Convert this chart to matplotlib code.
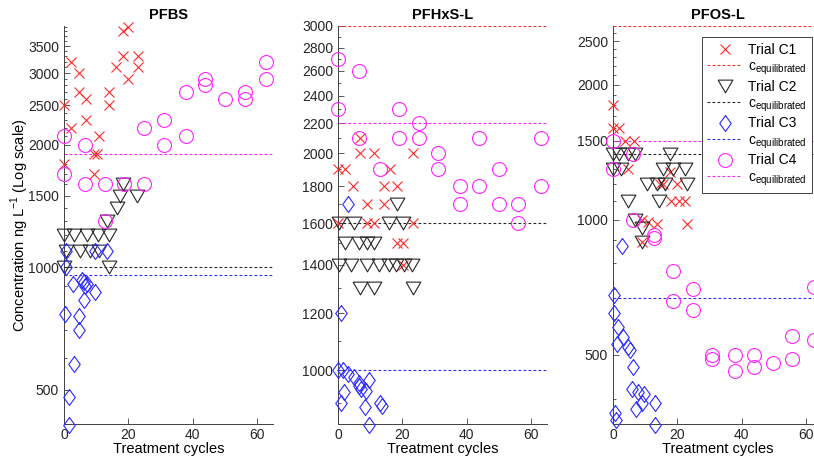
import numpy as np
import matplotlib
matplotlib.use('Agg')
from matplotlib import pyplot as plt
from matplotlib.path import Path
from matplotlib.ticker import FixedLocator, MultipleLocator, NullFormatter, FixedFormatter

plt.rcParams['font.family'] = ['Liberation Sans', 'DejaVu Sans']
plt.rcParams['mathtext.fontset'] = 'custom'
plt.rcParams['mathtext.rm'] = 'Liberation Sans'

# ---- PFBS ----
pfbs_c1_t = [0, 0, 2.2, 2.2, 4.7, 4.7, 6.9, 6.9, 9.3, 9.3, 10.4, 10.9, 14, 14, 16.3, 18.2, 18.2, 19.8, 19.8, 22.9, 22.9]
pfbs_c1_y = [2500, 1800, 3200, 2200, 3000, 2700, 2600, 2300, 1900, 1700, 1900, 2100, 2700, 2500, 3100, 3800, 3300, 3900, 2900, 3300, 3100]
pfbs_c2_t = [0, 3, 7, 10.5, 14, 0.5, 5, 8, 11, 0, 14, 13.5, 16.5, 17.5, 22.7, 18.2]
pfbs_c2_y = [1200, 1200, 1200, 1200, 1200, 1100, 1100, 1100, 1100, 1000, 1000, 1300, 1400, 1500, 1500, 1600]
pfbs_c3_t = [0.5, 9.7, 13.3, 0.5, 2.9, 5.5, 6.3, 7, 6.5, 9.5, 6.25, 0.3, 4.8, 4.8, 3.1, 1.5, 1.5]
pfbs_c3_y = [1100, 1100, 1100, 1000, 910, 930, 920, 910, 900, 870, 830, 770, 760, 700, 580, 480, 410]
pfbs_c4_t = [0, 0, 6.4, 6.4, 12.8, 12.8, 18.6, 25, 25, 31.2, 31.2, 37.8, 37.8, 44, 44, 50, 56.2, 56.2, 62.8, 62.8]
pfbs_c4_y = [2100, 1700, 2000, 1600, 1600, 1300, 1600, 2200, 1600, 2300, 2000, 2700, 2100, 2900, 2800, 2600, 2700, 2600, 3200, 2900]
pfbs_eq = [4200, 1000, 955, 1900]

# ---- PFHxS-L ----
pfhxs_c1_t = [0, 0, 2.3, 4.7, 6.8, 6.8, 9.1, 9.1, 11.1, 11.1, 14.2, 14.2, 16.3, 18.2, 18.4, 20.2, 20.2, 23.2, 23.2]
pfhxs_c1_y = [1900, 1600, 1900, 1800, 2100, 2000, 1700, 1600, 2000, 1600, 1800, 1700, 1900, 1800, 1500, 1500, 1400, 2000, 1600]
pfhxs_c2_t = [0.25, 4.9, 15.8, 20.2, 18.2, 2.3, 6.5, 9.1, 11.3, 0.25, 3.9, 9.1, 12.7, 15.8, 17.9, 20.4, 23, 6.8, 11.1, 23.4]
pfhxs_c2_y = [1600, 1600, 1600, 1600, 1700, 1500, 1500, 1500, 1500, 1400, 1400, 1400, 1400, 1400, 1400, 1400, 1400, 1300, 1300, 1300]
pfhxs_c3_t = [3.2, 0.8, 0, 1.5, 3, 5, 6.5, 6.5, 7, 8.8, 9.6, 2, 0.8, 8.3, 13.2, 13.7, 9.6]
pfhxs_c3_y = [1700, 1200, 1000, 1000, 990, 980, 960, 953, 943, 938, 969, 933, 900, 889, 901, 894, 841]
pfhxs_c4_t = [0, 0, 6.5, 6.5, 13, 19, 19, 25.2, 25.2, 31.2, 31.2, 38, 38, 44, 44, 50, 50, 56, 56, 63, 63]
pfhxs_c4_y = [2700, 2300, 2600, 2100, 1900, 2300, 2100, 2200, 2100, 2000, 1900, 1800, 1700, 2100, 1800, 1900, 1700, 1700, 1600, 2100, 1800]
pfhxs_eq = [3000, 1600, 1000, 2200]

# ---- PFOS-L ----
pfos_c1_t = [0, 0, 1.9, 3.75, 6.4, 4.6, 9, 11, 13.6, 14.7, 15.7, 17.8, 19.9, 18.1, 20.4, 22.5, 23, 9]
pfos_c1_y = [1800, 1600, 1600, 1500, 1500, 1300, 1000, 990, 980, 1200, 1200, 1280, 1200, 1100, 1100, 1100, 980, 890]
pfos_c2_t = [0, 1.9, 4.6, 6.7, 17.8, 0, 2.4, 15.7, 18.8, 22.5, 10.5, 13.6, 16.3, 23, 4.6, 14.2, 6.7, 9, 9]
pfos_c2_y = [1400, 1400, 1400, 1400, 1400, 1300, 1300, 1300, 1300, 1300, 1200, 1200, 1200, 1200, 1100, 1100, 1000, 960, 890]
pfos_c3_t = [2.9, 0.3, 0.3, 1.7, 1.2, 3.2, 4.8, 5.3, 6.2, 5.8, 7.7, 9.5, 9, 7.1, 13.1, 0.6, 0.8, 13.1]
pfos_c3_y = [875, 680, 620, 576, 530, 547, 521, 513, 470, 421, 414, 410, 390, 380, 391, 371, 359, 350]
pfos_c4_t = [0, 0, 6.2, 6.2, 12.6, 12.6, 18.8, 18.8, 24.9, 24.9, 30.8, 30.8, 37.9, 37.9, 43.8, 43.8, 49.9, 55.8, 55.8, 62.6, 62.6]
pfos_c4_y = [1500, 1300, 1400, 1000, 926, 910, 770, 660, 700, 630, 500, 490, 500, 460, 500, 470, 480, 550, 490, 710, 540]
pfos_eq = [2700, 1400, 670, 1500]

titles = ['PFBS', 'PFHxS-L', 'PFOS-L']
ylims = [(412, 3920), (843, 3000), (351, 2700)]
yticks = [[500, 1000, 1500, 2000, 2500, 3000, 3500],
          [1000, 1200, 1400, 1600, 1800, 2000, 2200, 2400, 2600, 2800, 3000],
          [500, 1000, 1500, 2000, 2500]]
trial_names = ['Trial C1', 'Trial C2', 'Trial C3', 'Trial C4']

# marker shapes: bbox-centred down triangle and a slightly narrow diamond
tri_down = Path([(-1, 0.866), (1, 0.866), (0, -0.866), (-1, 0.866)])
diamond = Path([(0, 1), (0.72, 0), (0, -1), (-0.72, 0), (0, 1)])
styles = [dict(marker='x', ms=7, color='#ff2a2a'),
          dict(marker=tri_down, ms=10.6, color='#262626'),
          dict(marker=diamond, ms=11.5, color='#2a2aff'),
          dict(marker='o', ms=10, color='#ff22ff')]

panels = [
    [(pfbs_c1_t, pfbs_c1_y), (pfbs_c2_t, pfbs_c2_y), (pfbs_c3_t, pfbs_c3_y), (pfbs_c4_t, pfbs_c4_y)],
    [(pfhxs_c1_t, pfhxs_c1_y), (pfhxs_c2_t, pfhxs_c2_y), (pfhxs_c3_t, pfhxs_c3_y), (pfhxs_c4_t, pfhxs_c4_y)],
    [(pfos_c1_t, pfos_c1_y), (pfos_c2_t, pfos_c2_y), (pfos_c3_t, pfos_c3_y), (pfos_c4_t, pfos_c4_y)],
]
eqs = [pfbs_eq, pfhxs_eq, pfos_eq]

W, H = 814, 463
fig = plt.figure(figsize=(W / 100, H / 100), dpi=100)
lefts = [64, 338, 613]
axc = '#404040'

axes = []
for i in range(3):
    ax = fig.add_axes([lefts[i] / W, (H - 424) / H, 209 / W, 398 / H])
    axes.append(ax)
    handles = []
    for k, (t, y) in enumerate(panels[i]):
        st = styles[k]
        h, = ax.plot(t, y, linestyle='none', marker=st['marker'], ms=st['ms'],
                     mfc='none', mec=st['color'], mew=0.8, clip_on=False,
                     label=trial_names[k], zorder=3)
        ln = ax.axhline(eqs[i][k], color=st['color'], lw=0.8, ls=(0, (2.5, 2)),
                        label=r'c$_{\mathregular{equilibrated}}$', zorder=2)
        handles += [h, ln]

    ax.set_yscale('log')
    ax.set_ylim(*ylims[i])
    ax.set_xlim(0, 65)
    ax.yaxis.set_major_locator(FixedLocator(yticks[i]))
    ax.yaxis.set_major_formatter(FixedFormatter([str(v) for v in yticks[i]]))
    ax.yaxis.set_minor_locator(MultipleLocator(100))
    ax.yaxis.set_minor_formatter(NullFormatter())
    ax.set_xticks([0, 20, 40, 60])
    ax.tick_params(which='both', direction='in', colors=axc, labelsize=10, labelcolor='#262626')
    ax.tick_params(which='major', length=4, width=0.6)
    ax.tick_params(which='minor', length=2.5, width=0.6)
    ax.tick_params(axis='x', pad=3)
    for side in ['top', 'right']:
        ax.spines[side].set_visible(False)
    for side in ['left', 'bottom']:
        ax.spines[side].set_color(axc)
        ax.spines[side].set_linewidth(0.7)
    ax.set_title(titles[i], fontsize=10.5, fontweight='bold', pad=5)
    ax.set_xlabel('Treatment cycles', fontsize=10.5, labelpad=0)

axes[0].set_ylabel(r'Concentration ng L$^{\mathregular{-1}}$ (Log scale)', fontsize=10.5, labelpad=-2)

leg = axes[2].legend(handles=handles, loc='upper right', bbox_to_anchor=(812 / W, 1 - 37 / H),
                     bbox_transform=fig.transFigure, borderaxespad=0, fontsize=10,
                     frameon=True, fancybox=False, framealpha=1, edgecolor='#404040',
                     handlelength=2.5, handletextpad=0.4, labelspacing=0.2, borderpad=0.4)
leg.get_frame().set_linewidth(0.7)

fig.savefig('out.png', dpi=100)
